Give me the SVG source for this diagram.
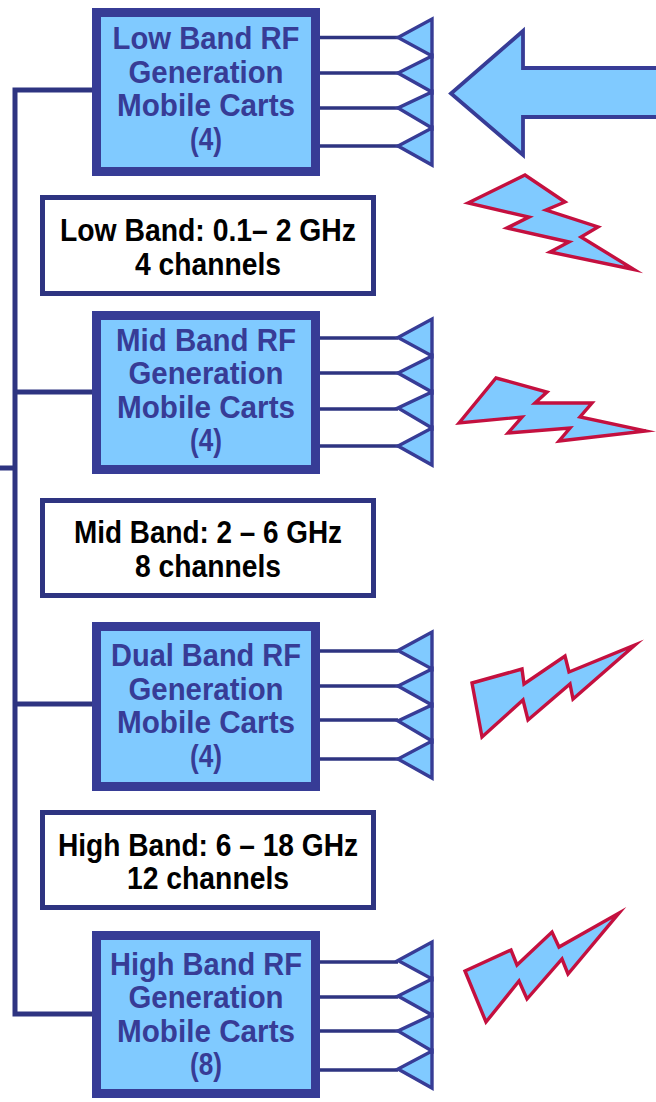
<svg xmlns="http://www.w3.org/2000/svg" width="656" height="1102" viewBox="0 0 656 1102">
<style>
.cart{fill:#80CAFF;stroke:#373C96;stroke-width:9}
.lab{fill:#fff;stroke:#2E3481;stroke-width:5}
.ant{fill:#80CAFF;stroke:#373C96;stroke-width:3.4;stroke-linejoin:miter}
.wire{fill:none;stroke:#2E3481;stroke-width:3.6}
.trunk{fill:none;stroke:#2E3481;stroke-width:5}
.bolt{fill:#80CAFF;stroke:#C4103F;stroke-width:3.4;stroke-miterlimit:10}
.big{fill:#80CAFF;stroke:#373C96;stroke-width:3.8}
text{font-family:"Liberation Sans",Arial,sans-serif;font-weight:700;text-anchor:middle;font-size:32px}
.c{fill:#373C96}
.k{fill:#000}
</style>
<defs>
<g id="ants">
<path class="ant" d="M432 19V56L398 37.500Z"/>
<path class="ant" d="M432 56V92L398 73Z"/>
<path class="ant" d="M432 92V128L398 108Z"/>
<path class="ant" d="M432 128V165L398 146Z"/>
</g>
</defs>
<g id="connectors">
<path class="trunk" d="M92 90H15V1014H92M15 392H92M15 704H92M0 468H15"/>
<path class="wire" d="M320 37.500H398M320 73H398M320 108H398M320 146H398"/>
<path class="wire" d="M320 338H398M320 373H398M320 409H398M320 446H398"/>
<path class="wire" d="M320 651H398M320 686H398M320 720H398M320 759H398"/>
<path class="wire" d="M320 962H398M320 997H398M320 1031H398M320 1070H398"/>
</g>
<g id="antennas-low"><use href="#ants"/></g>
<g id="antennas-mid"><use href="#ants" y="300"/></g>
<g id="antennas-dual"><use href="#ants" y="613"/></g>
<g id="antennas-high"><use href="#ants" y="923"/></g>
<g id="cart-low">
<rect class="cart" x="96.500" y="12.500" width="219" height="159"/>
<text class="c" x="206" y="49" textLength="187" lengthAdjust="spacingAndGlyphs">Low Band RF</text>
<text class="c" x="206" y="83" textLength="155" lengthAdjust="spacingAndGlyphs">Generation</text>
<text class="c" x="206" y="116" textLength="178" lengthAdjust="spacingAndGlyphs">Mobile Carts</text>
<text class="c" x="206" y="150" textLength="32" lengthAdjust="spacingAndGlyphs">(4)</text>
</g>
<g id="label-low">
<rect class="lab" x="42.500" y="197.500" width="331" height="96"/>
<text class="k" x="208" y="241" textLength="296" lengthAdjust="spacingAndGlyphs">Low Band: 0.1– 2 GHz</text>
<text class="k" x="208" y="275" textLength="146" lengthAdjust="spacingAndGlyphs">4 channels</text>
</g>
<g id="cart-mid">
<rect class="cart" x="96.500" y="315.500" width="219" height="154"/>
<text class="c" x="206" y="351" textLength="180" lengthAdjust="spacingAndGlyphs">Mid Band RF</text>
<text class="c" x="206" y="384" textLength="155" lengthAdjust="spacingAndGlyphs">Generation</text>
<text class="c" x="206" y="418" textLength="178" lengthAdjust="spacingAndGlyphs">Mobile Carts</text>
<text class="c" x="206" y="451" textLength="32" lengthAdjust="spacingAndGlyphs">(4)</text>
</g>
<g id="label-mid">
<rect class="lab" x="42.500" y="500.500" width="331" height="95"/>
<text class="k" x="208" y="543" textLength="268" lengthAdjust="spacingAndGlyphs">Mid Band: 2 – 6 GHz</text>
<text class="k" x="208" y="577" textLength="146" lengthAdjust="spacingAndGlyphs">8 channels</text>
</g>
<g id="cart-dual">
<rect class="cart" x="96.500" y="626.500" width="219" height="160"/>
<text class="c" x="206" y="666" textLength="190" lengthAdjust="spacingAndGlyphs">Dual Band RF</text>
<text class="c" x="206" y="700" textLength="155" lengthAdjust="spacingAndGlyphs">Generation</text>
<text class="c" x="206" y="733" textLength="178" lengthAdjust="spacingAndGlyphs">Mobile Carts</text>
<text class="c" x="206" y="767" textLength="32" lengthAdjust="spacingAndGlyphs">(4)</text>
</g>
<g id="label-high">
<rect class="lab" x="42.500" y="812.500" width="331" height="95"/>
<text class="k" x="208" y="856" textLength="300" lengthAdjust="spacingAndGlyphs">High Band: 6 – 18 GHz</text>
<text class="k" x="208" y="889" textLength="162" lengthAdjust="spacingAndGlyphs">12 channels</text>
</g>
<g id="cart-high">
<rect class="cart" x="96.500" y="935.500" width="219" height="158"/>
<text class="c" x="206" y="975" textLength="192" lengthAdjust="spacingAndGlyphs">High Band RF</text>
<text class="c" x="206" y="1008" textLength="155" lengthAdjust="spacingAndGlyphs">Generation</text>
<text class="c" x="206" y="1042" textLength="178" lengthAdjust="spacingAndGlyphs">Mobile Carts</text>
<text class="c" x="206" y="1075" textLength="32" lengthAdjust="spacingAndGlyphs">(8)</text>
</g>
<g id="incoming-arrow">
<path class="big" d="M660 68H523V31L451 93.500L523 155V117H660Z"/>
</g>
<g id="bolt-1"><path class="bolt" d="M468 203L525 175L565 202L546 210L598 227L581 237L634 269.500L550 252L569 242L507 228L529 217Z"/></g>
<g id="bolt-2"><path class="bolt" d="M459 423L496 378L547 392L535 403L592 403L580 417L646 431L559 441L570 428L508 433L522 417Z"/></g>
<g id="bolt-3"><path class="bolt" d="M472 683L522 669L524 684L565 656L569 672L635 645L573 699L570 684L528 720L523 700L482 737Z"/></g>
<g id="bolt-4"><path class="bolt" d="M465 971L511 950L517 965L552 932L559 947L619 913L568 974L562 959L527 999L519 981L486 1022Z"/></g>
</svg>
